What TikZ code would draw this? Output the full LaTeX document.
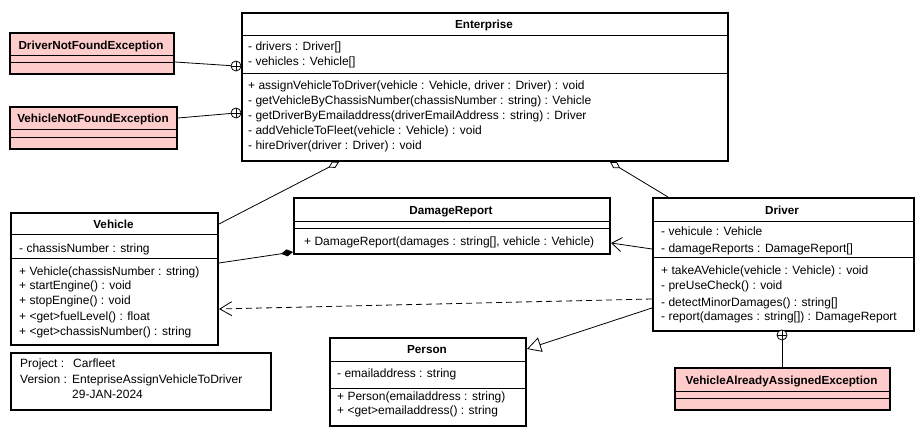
\documentclass[tikz,border=0pt]{standalone}
\usepackage{fontspec}
\setmainfont{Liberation Sans}
\usetikzlibrary{arrows.meta}
\definecolor{excfill}{RGB}{255,204,204}
\newcommand\umlreg{\fontsize{12}{15}\selectfont}
\newcommand\umlbold{\fontsize{11.7}{15}\selectfont\bfseries}
\begin{document}
\begin{tikzpicture}[x=1pt,y=-1pt,
  box/.style={draw, line width=2pt, fill=white, inner sep=0, anchor=north west},
  exc/.style={box, fill=excfill},
  sep/.style={line width=0.9pt},
  ttl/.style={inner sep=0, font=\umlbold, text height=9.5pt, text depth=0pt, anchor=center},
  mem/.style={inner sep=0, font=\umlreg, anchor=west, text height=10pt, text depth=2pt},
  conn/.style={line width=0.8pt},
  nest/.style={circle, draw, line width=0.8pt, minimum size=10pt, inner sep=0, fill=white,
    path picture={\draw[line width=0.8pt] (path picture bounding box.north) -- (path picture bounding box.south)
      (path picture bounding box.west) -- (path picture bounding box.east);}}
]
\fill[white] (0,0) rectangle (922,441);
\useasboundingbox (0,0) rectangle (922,441);

% Enterprise
\node[box, minimum width=486pt, minimum height=148pt] (ent) at (241,12) {};
\draw[sep] ([yshift=-23pt]ent.north west) -- ([yshift=-23pt]ent.north east);
\draw[sep] ([yshift=-61pt]ent.north west) -- ([yshift=-61pt]ent.north east);
\node[ttl] (entT) at (484,24) {Enterprise};
\node[mem] (entA1) at (248,47) {- drivers : Driver[]};
\node[mem] (entA2) at (248,62) {- vehicles : Vehicle[]};
\node[mem] (entM1) at (248,86) {+ assignVehicleToDriver(vehicle : Vehicle, driver : Driver) : void};
\node[mem] (entM2) at (248,101) {- getVehicleByChassisNumber(chassisNumber : string) : Vehicle};
\node[mem] (entM3) at (248,116) {- getDriverByEmailaddress(driverEmailAddress : string) : Driver};
\node[mem] (entM4) at (248,131) {- addVehicleToFleet(vehicle : Vehicle) : void};
\node[mem] (entM5) at (248,146) {- hireDriver(driver : Driver) : void};

% DriverNotFoundException
\node[exc, minimum width=164pt, minimum height=41pt] (dnf) at (9,32) {};
\draw[sep] ([yshift=-23pt]dnf.north west) -- ([yshift=-23pt]dnf.north east);
\draw[sep] ([yshift=-30pt]dnf.north west) -- ([yshift=-30pt]dnf.north east);
\node[ttl] (dnfT) at (91,45) {DriverNotFoundException};

% VehicleNotFoundException
\node[exc, minimum width=167pt, minimum height=42pt] (vnf) at (9,106) {};
\draw[sep] ([yshift=-23pt]vnf.north west) -- ([yshift=-23pt]vnf.north east);
\draw[sep] ([yshift=-31pt]vnf.north west) -- ([yshift=-31pt]vnf.north east);
\node[ttl] (vnfT) at (93,118) {VehicleNotFoundException};

% Vehicle
\node[box, minimum width=207pt, minimum height=132pt] (veh) at (10,212) {};
\draw[sep] ([yshift=-22pt]veh.north west) -- ([yshift=-22pt]veh.north east);
\draw[sep] ([yshift=-46pt]veh.north west) -- ([yshift=-46pt]veh.north east);
\node[ttl] (vehT) at (113.5,224) {Vehicle};
\node[mem] (vehA1) at (19,248) {- chassisNumber : string};
\node[mem] (vehM1) at (19,271) {+ Vehicle(chassisNumber : string)};
\node[mem] (vehM2) at (19,286) {+ startEngine() : void};
\node[mem] (vehM3) at (19,301) {+ stopEngine() : void};
\node[mem] (vehM4) at (19,316) {+ <get>fuelLevel() : float};
\node[mem] (vehM5) at (19,331) {+ <get>chassisNumber() : string};

% DamageReport
\node[box, minimum width=316pt, minimum height=56pt] (dr) at (293,197) {};
\draw[sep] ([yshift=-24pt]dr.north west) -- ([yshift=-24pt]dr.north east);
\draw[sep] ([yshift=-31pt]dr.north west) -- ([yshift=-31pt]dr.north east);
\node[ttl] (drT) at (451,210) {DamageReport};
\node[mem] (drM1) at (304,241) {+ DamageReport(damages : string[], vehicle : Vehicle)};

% Driver
\node[box, minimum width=261pt, minimum height=133pt] (drv) at (652,197) {};
\draw[sep] ([yshift=-24pt]drv.north west) -- ([yshift=-24pt]drv.north east);
\draw[sep] ([yshift=-60pt]drv.north west) -- ([yshift=-60pt]drv.north east);
\node[ttl] (drvT) at (782,210) {Driver};
\node[mem] (drvA1) at (661,232) {- vehicule : Vehicle};
\node[mem] (drvA2) at (661,248) {- damageReports : DamageReport[]};
\node[mem] (drvM1) at (661,270) {+ takeAVehicle(vehicle : Vehicle) : void};
\node[mem] (drvM2) at (661,286) {- preUseCheck() : void};
\node[mem] (drvM3) at (661,302) {- detectMinorDamages() : string[]};
\node[mem] (drvM4) at (661,316) {- report(damages : string[]) : DamageReport};

% Person
\node[box, minimum width=196pt, minimum height=88pt] (per) at (329,337) {};
\draw[sep] ([yshift=-24pt]per.north west) -- ([yshift=-24pt]per.north east);
\draw[sep] ([yshift=-51pt]per.north west) -- ([yshift=-51pt]per.north east);
\node[ttl] (perT) at (427,349) {Person};
\node[mem] (perA1) at (337,373) {- emailaddress : string};
\node[mem] (perM1) at (337,396) {+ Person(emailaddress : string)};
\node[mem] (perM2) at (337,410) {+ <get>emailaddress() : string};

% VehicleAlreadyAssignedException
\node[exc, minimum width=215pt, minimum height=42pt] (vaa) at (674,367) {};
\draw[sep] ([yshift=-24pt]vaa.north west) -- ([yshift=-24pt]vaa.north east);
\draw[sep] ([yshift=-31pt]vaa.north west) -- ([yshift=-31pt]vaa.north east);
\node[ttl] (vaaT) at (781.5,380) {VehicleAlreadyAssignedException};

% Note
\node[box, minimum width=260pt, minimum height=57pt] (note) at (10,352) {};
\node[mem] (noteL1) at (20,363) {Project :};
\node[mem] (noteV1) at (73,363) {Carfleet};
\node[mem] (noteL2) at (20,379) {Version :};
\node[mem] (noteV2) at (72,379) {EntepriseAssignVehicleToDriver};
\node[mem] (noteV3) at (72,394) {29-JAN-2024};

% nesting
\node[nest] (c1) at (236,66) {};
\node[nest] (c2) at (236,113) {};
\node[nest] (c3) at (782,335) {};
\draw[conn] ([yshift=-8.5pt]dnf.east) -- (c1);
\draw[conn] ([yshift=10pt]vnf.east) -- (c2);
\draw[conn] (c3) -- (c3 |- vaa.north);

% aggregations
\draw[conn, {Diamond[open,length=12pt,width=7pt]}-] ([xshift=98pt]ent.south west) -- ([yshift=55pt]veh.east);
\draw[conn, {Diamond[open,length=12pt,width=7pt]}-] ([xshift=369pt]ent.south west) -- ([xshift=16pt]drv.north west);
% composition
\draw[conn, {Diamond[length=12pt,width=7pt]}-] ([yshift=-26pt]dr.west) -- ([yshift=16pt]veh.east);
% navigable association
\draw[conn, -{Straight Barb[length=10pt,width=14pt]}] ([yshift=15.5pt]drv.west) -- ([yshift=-17pt]dr.east);
% dependency
\draw[conn, dash pattern=on 6pt off 4pt, -{Straight Barb[length=12pt,width=14pt]}] ([yshift=-34.5pt]drv.west) -- ([yshift=-30pt]veh.east);
% generalization
\draw[conn, -{Triangle[open,length=14pt,width=15pt]}] ([yshift=-43.5pt]drv.west) -- ([yshift=33pt]per.east);
\end{tikzpicture}
\end{document}
